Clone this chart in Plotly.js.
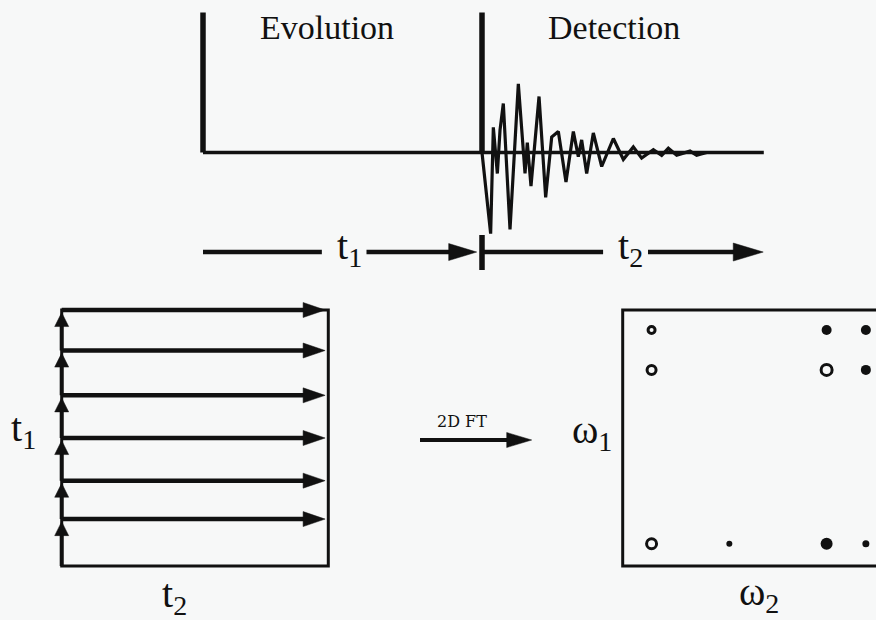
<!DOCTYPE html>
<html>
<head>
<meta charset="utf-8">
<script src="https://cdn.plot.ly/plotly-3.0.1.min.js"></script>
<style>html,body{margin:0;padding:0;background:#f7f8f8;}#chart{width:876px;height:620px;}</style>
</head>
<body>
<div id="chart"></div>
<script>
// ---------------- DATA ----------------
// 1D pulse sequence (time in arbitrary units, amplitude normalised)
const pulseTimes = [0, 50];          // evolution pulse, detection pulse
const pulseAmp = 1.0;
const acqEnd = 100.5;                // end of acquisition (baseline end)
// free induction decay after the detection pulse
const fidT = [50.0, 51.55, 52.03, 52.75, 53.23, 53.82, 55.02, 56.51, 57.71, 58.12, 58.78, 60.22,
              61.41, 62.49, 63.68, 65.05, 66.37, 67.26, 67.86, 68.76, 69.95, 71.45, 73.54, 75.33,
              77.12, 78.61, 80.71, 82.20, 83.39, 84.89, 87.28, 88.47, 90.26];
const fidA = [0.0, -0.58, 0.18, -0.15, 0.16, 0.35, -0.55, 0.49, -0.15, 0.07, -0.24, 0.40,
              -0.32, 0.11, 0.15, -0.21, 0.15, -0.03, 0.09, -0.15, 0.14, -0.10, 0.10, -0.05,
              0.04, -0.04, 0.02, -0.02, 0.03, -0.02, 0.01, -0.02, 0.0];
// 2D acquisition grid: t1 increments, t2 acquisition length
const t1Rows = [1.1, 2.0, 3.0, 4.0, 5.05, 6.0];
const t1Max = 6;
const t2Max = 10;
const t2ArrowEnd = 9.88;
// 2D spectrum peaks (omega2, omega1)
const ringW2 = [1.14, 1.14, 8.05, 1.14];
const ringW1 = [9.22, 7.66, 7.66, 0.87];
const ringSize = [7, 9, 11, 10];
const dotW2 = [8.05, 9.60, 9.60, 4.21, 8.05, 9.60];
const dotW1 = [9.22, 9.22, 7.66, 0.87, 0.87, 0.87];
const dotSize = [10, 10, 10, 6, 12, 7];
const w2Max = 10, w1Max = 10;

// ---------------- STYLE / LAYOUT ----------------
const INK = '#111111';
const BG = '#f7f8f8';
const SERIF = 'Liberation Serif, Times New Roman, serif';
const W = 876, H = 620;

// pixel scales of the sub-panels (px per data unit)
const fidPx = {x: 5.58, y: 140};
const gridPx = {x: 26.66, y: 42.67};

function arrow(xref, yref, x0, y0, x1, y1, dir, lw, hl, hw, ppu) {
  let xe = x1, ye = y1;
  if (dir === 'right') xe = x1 - (hl * 0.6) / ppu; else ye = y1 - (hl * 0.6) / ppu;
  const path = dir === 'right'
    ? `M0,0L${-hl},${hw / 2}L${-hl},${-hw / 2}Z`
    : `M0,0L${hw / 2},${-hl}L${-hw / 2},${-hl}Z`;
  return [
    {type: 'line', xref, yref, x0, y0, x1: xe, y1: ye, line: {color: INK, width: lw}},
    {type: 'path', xref, yref, xsizemode: 'pixel', ysizemode: 'pixel', xanchor: x1, yanchor: y1,
     path, fillcolor: INK, line: {color: INK, width: 0.5}}
  ];
}

const traces = [];
// pulses
const px = [], py = [];
pulseTimes.forEach(t => { px.push(t, t, null); py.push(0, pulseAmp, null); });
traces.push({x: px, y: py, xaxis: 'x', yaxis: 'y', mode: 'lines',
  line: {color: INK, width: 5.5}, hoverinfo: 'skip', showlegend: false});
// baseline
traces.push({x: [pulseTimes[0], acqEnd], y: [0, 0], xaxis: 'x', yaxis: 'y', mode: 'lines',
  line: {color: INK, width: 3.5}, hoverinfo: 'skip', showlegend: false});
// FID
traces.push({x: fidT, y: fidA, xaxis: 'x', yaxis: 'y', mode: 'lines',
  line: {color: INK, width: 3.2}, hoverinfo: 'skip', showlegend: false});
// spectrum peaks
traces.push({x: ringW2, y: ringW1, xaxis: 'x3', yaxis: 'y3', mode: 'markers',
  marker: {symbol: 'circle-open', size: ringSize, color: INK, opacity: 1, line: {color: INK, width: 3}},
  hoverinfo: 'skip', showlegend: false});
traces.push({x: dotW2, y: dotW1, xaxis: 'x3', yaxis: 'y3', mode: 'markers',
  marker: {symbol: 'circle', size: dotSize, color: INK, opacity: 1, line: {width: 0}},
  hoverinfo: 'skip', showlegend: false});

let shapes = [];
// time axis row under the pulse sequence
const rowY = -0.711;
const tA = pulseTimes[0], tB = pulseTimes[1];
shapes.push({type: 'line', xref: 'x', yref: 'y', x0: tA, y0: rowY, x1: tA + 21.3, y1: rowY, line: {color: INK, width: 4.5}});
shapes = shapes.concat(arrow('x', 'y', tA + 29.3, rowY, tB - 0.95, rowY, 'right', 4.5, 28, 17, fidPx.x));
shapes.push({type: 'line', xref: 'x', yref: 'y', x0: tB, y0: -0.589, x1: tB, y1: -0.839, line: {color: INK, width: 5.5}});
shapes.push({type: 'line', xref: 'x', yref: 'y', x0: tB, y0: rowY, x1: tB + 21.7, y1: rowY, line: {color: INK, width: 4.5}});
shapes = shapes.concat(arrow('x', 'y', tB + 29.75, rowY, acqEnd - 0.1, rowY, 'right', 4.5, 30, 18, fidPx.x));

// acquisition grid box
shapes.push({type: 'rect', xref: 'x2', yref: 'y2', x0: 0, y0: 0, x1: t2Max, y1: t1Max, line: {color: INK, width: 3}});
let prev = 0;
t1Rows.forEach(r => {
  shapes = shapes.concat(arrow('x2', 'y2', 0, r, t2ArrowEnd, r, 'right', 4.5, 22, 15, gridPx.x));
  shapes = shapes.concat(arrow('x2', 'y2', 0, prev, 0, r - 0.06, 'up', 4, 14, 14, gridPx.y));
  prev = r;
});

// spectrum box (right side runs off the page)
shapes.push({type: 'rect', xref: 'x3', yref: 'y3', x0: 0, y0: 0, x1: w2Max + 1, y1: w1Max, line: {color: INK, width: 3}});

// 2D FT arrow (paper)
shapes = shapes.concat(arrow('paper', 'paper', 420 / W, 1 - 440 / H, 531.7 / W, 1 - 440 / H, 'right', 4, 25, 15, W));

function lab(text, cx, cy, size, family) {
  return {text, x: cx / W, y: 1 - cy / H, xref: 'paper', yref: 'paper', xanchor: 'center', yanchor: 'middle',
    showarrow: false, font: {family: family || SERIF, size, color: INK}};
}
const annotations = [
  lab('Evolution', 326.5, 27, 34),
  lab('Detection', 614, 27, 34),
  lab('t<sub>1</sub>', 349, 248, 40),
  lab('t<sub>2</sub>', 630, 248, 40),
  lab('t<sub>1</sub>', 23, 430, 40),
  lab('t<sub>2</sub>', 174, 596, 40),
  lab('ω<sub>1</sub>', 591.5, 432, 40),
  lab('ω<sub>2</sub>', 758.5, 594, 40),
  lab('2D FT', 462, 421, 16, 'DejaVu Serif, serif')
];

function ax(domain, range) {
  return {domain, range, visible: false, showgrid: false, zeroline: false, fixedrange: true};
}
const layout = {
  width: W, height: H,
  margin: {l: 0, r: 0, t: 0, b: 0},
  paper_bgcolor: BG, plot_bgcolor: 'rgba(0,0,0,0)',
  showlegend: false,
  xaxis: Object.assign(ax([186.26 / W, 777.74 / W], [-3, 103]), {anchor: 'y'}),
  yaxis: Object.assign(ax([1 - 278.5 / H, 1 - 5.5 / H], [-0.9, 1.05]), {anchor: 'x'}),
  xaxis2: Object.assign(ax([48.37 / W, 341.63 / W], [-0.5, 10.5]), {anchor: 'y2'}),
  yaxis2: Object.assign(ax([1 - 578.8 / H, 1 - 297.2 / H], [-0.3, 6.3]), {anchor: 'x2'}),
  xaxis3: Object.assign(ax([610.03 / W, 1], [-0.5, 10]), {anchor: 'y3'}),
  yaxis3: Object.assign(ax([1 - 578.8 / H, 1 - 297.2 / H], [-0.5, 10.5]), {anchor: 'x3'}),
  shapes, annotations
};
Plotly.newPlot('chart', traces, layout, {displayModeBar: false, staticPlot: true});
</script>
</body>
</html>
